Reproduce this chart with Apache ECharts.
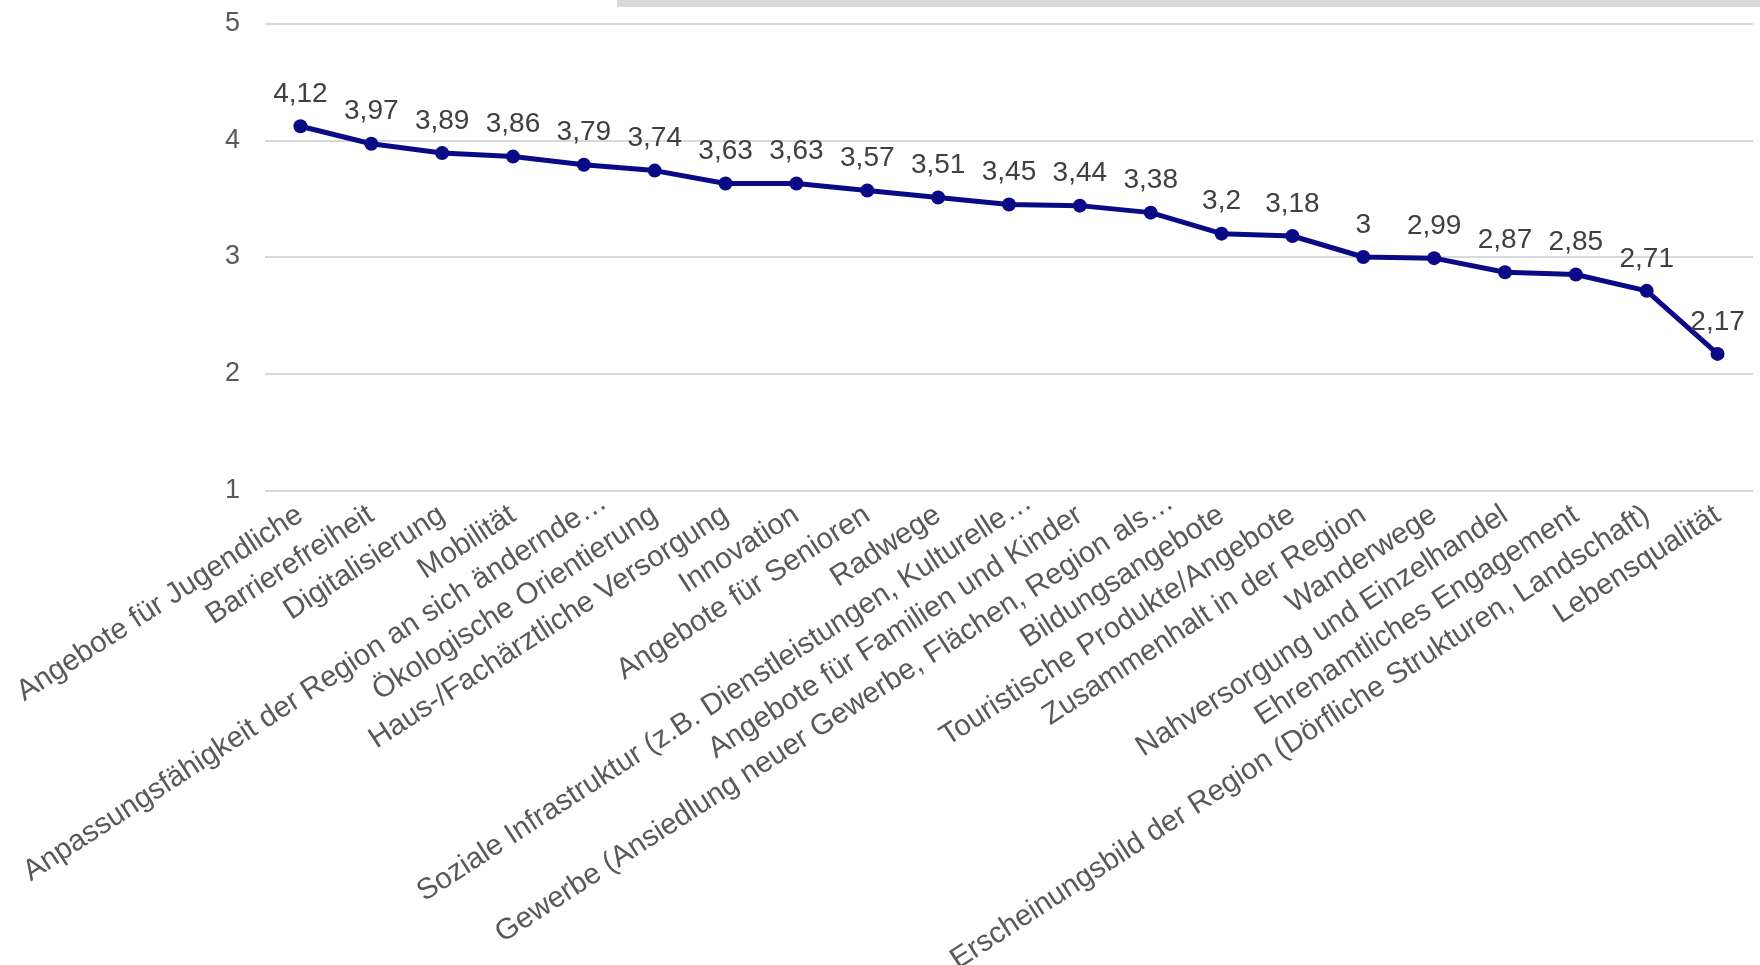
<!DOCTYPE html>
<html>
<head>
<meta charset="utf-8">
<script src="https://cdn.jsdelivr.net/npm/echarts@6/dist/echarts.min.js"></script>
<style>
  html, body { margin: 0; padding: 0; background: #ffffff; }
  #chart { width: 1760px; height: 965px; }
</style>
</head>
<body>
<div id="chart"></div>
<script>
// Bewertung der Themenfelder (Mittelwerte, Skala 1–5)
const categories = [
  'Angebote für Jugendliche',
  'Barrierefreiheit',
  'Digitalisierung',
  'Mobilität',
  'Anpassungsfähigkeit der Region an sich ändernde…',
  'Ökologische Orientierung',
  'Haus-/Fachärztliche Versorgung',
  'Innovation',
  'Angebote für Senioren',
  'Radwege',
  'Soziale Infrastruktur (z.B. Dienstleistungen, Kulturelle…',
  'Angebote für Familien und Kinder',
  'Gewerbe (Ansiedlung neuer Gewerbe, Flächen, Region als…',
  'Bildungsangebote',
  'Touristische Produkte/Angebote',
  'Zusammenhalt in der Region',
  'Wanderwege',
  'Nahversorgung und Einzelhandel',
  'Ehrenamtliches Engagement',
  'Erscheinungsbild der Region (Dörfliche Strukturen, Landschaft)',
  'Lebensqualität'
];

const values = [4.12, 3.97, 3.89, 3.86, 3.79, 3.74, 3.63, 3.63, 3.57, 3.51,
                3.45, 3.44, 3.38, 3.2, 3.18, 3, 2.99, 2.87, 2.85, 2.71, 2.17];

const yTicks = [1, 2, 3, 4, 5];

const FONT = '"Liberation Sans", Arial, sans-serif';
const deComma = v => String(v).replace('.', ',');

const chart = echarts.init(document.getElementById('chart'), null, { renderer: 'canvas' });

chart.setOption({
  animation: false,
  backgroundColor: '#ffffff',
  graphic: [{
    type: 'rect',
    left: 617, top: 0,
    shape: { width: 1143, height: 7 },
    style: { fill: '#d9d9d9' },
    silent: true
  }],
  grid: {
    left: 265, right: 7, top: 23.5, bottom: 474.5,
    containLabel: false,
    outerBoundsMode: 'none'
  },
  xAxis: {
    type: 'category',
    data: categories,
    boundaryGap: true,
    axisLine: { show: false },
    axisTick: { show: false },
    axisLabel: {
      interval: 0,
      rotate: 33,
      margin: 22,
      color: '#595959',
      fontFamily: FONT,
      fontSize: 29.5,
      // a truncated name's ellipsis hangs past the tick anchor
      formatter: v => v.endsWith('…') ? v.slice(0, -1) + '{el|…}' : v,
      rich: {
        el: { padding: [0, -24, 0, 0], color: '#595959', fontFamily: FONT, fontSize: 29.5 }
      }
    }
  },
  yAxis: {
    type: 'value',
    min: yTicks[0],
    max: yTicks[yTicks.length - 1],
    interval: 1,
    axisLine: { show: false },
    axisTick: { show: false },
    axisLabel: {
      margin: 25,
      color: '#595959',
      fontFamily: FONT,
      fontSize: 27
    },
    splitLine: { lineStyle: { color: '#d9d9d9', width: 2 } }
  },
  series: [{
    type: 'line',
    data: values,
    symbol: 'circle',
    symbolSize: 14,
    lineStyle: { color: '#0a0a87', width: 5 },
    itemStyle: { color: '#0a0a87' },
    label: {
      show: true,
      position: 'top',
      distance: 11,
      color: '#404040',
      fontFamily: FONT,
      fontSize: 28,
      formatter: p => deComma(p.value)
    }
  }]
});
</script>
</body>
</html>
